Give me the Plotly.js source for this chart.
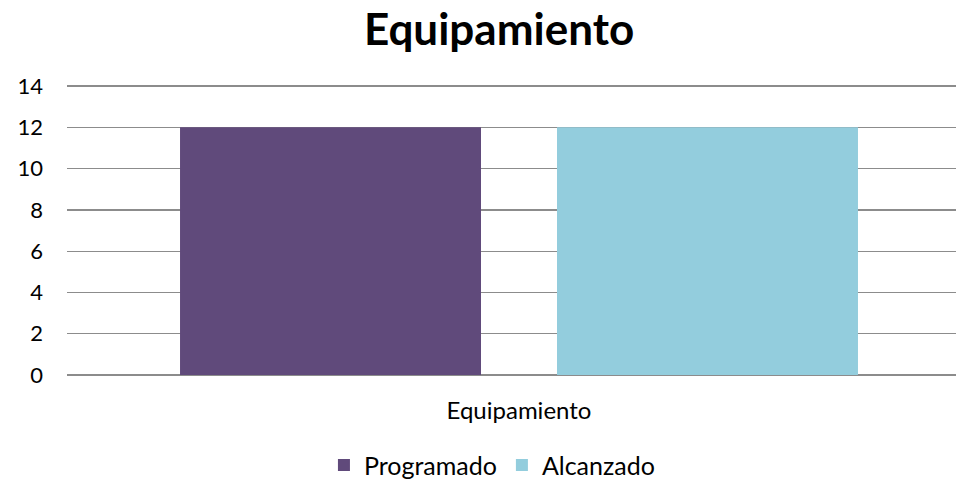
<!DOCTYPE html>
<html>
<head>
<meta charset="utf-8">
<script src="https://cdn.plot.ly/plotly-3.0.1.min.js"></script>
<style>html,body{margin:0;padding:0;background:#fff;overflow:hidden;}#chart{width:956px;height:479px;}</style>
</head>
<body>
<div id="chart"></div>
<script>
const categories = ["Equipamiento"];
const programado = [12];
const alcanzado = [12];
const seriesNames = ["Programado", "Alcanzado"];
const yTicks = [0, 2, 4, 6, 8, 10, 12, 14];

const traces = [
  {type: "bar", name: seriesNames[0], x: categories, y: programado, marker: {color: "#604A7B"}},
  {type: "bar", name: seriesNames[1], x: categories, y: alcanzado, marker: {color: "#93CDDD"}}
];

const font = "Lato, 'Open Sans', sans-serif";
const layout = {
  width: 956, height: 479, autosize: false,
  margin: {l: 67, r: 0, t: 84, b: 104, autoexpand: false},
  paper_bgcolor: "#fff", plot_bgcolor: "#fff",
  font: {family: font, size: 22, color: "#000"},
  title: {text: "<b>Equipamiento</b>", font: {family: font, size: 44, color: "#000"}, x: 0.522, xanchor: "center", y: 0.938, yanchor: "middle"},
  barmode: "group",
  bargap: 0.166,
  bargroupgap: 0.2016,
  xaxis: {range: [-0.5, 0.4834], showgrid: false, zeroline: false, showline: false, ticks: "", ticklabelstandoff: 19, tickfont: {size: 24}, fixedrange: true},
  yaxis: {range: [0, 14.1], tickvals: yTicks, showgrid: true, gridcolor: "#8c8c8c", gridwidth: 1.3, zeroline: true, zerolinecolor: "#8c8c8c", zerolinewidth: 1.3, showline: false, ticks: "", ticklabelstandoff: 23, tickfont: {size: 22}},
  legend: {orientation: "h", x: 0.478, xanchor: "center", y: -0.31, yanchor: "middle", font: {size: 25}, itemwidth: 30, tracegroupgap: 0, traceorder: "normal"},
  showlegend: true
};

Plotly.newPlot("chart", traces, layout, {displayModeBar: false, staticPlot: true});
</script>
</body>
</html>
